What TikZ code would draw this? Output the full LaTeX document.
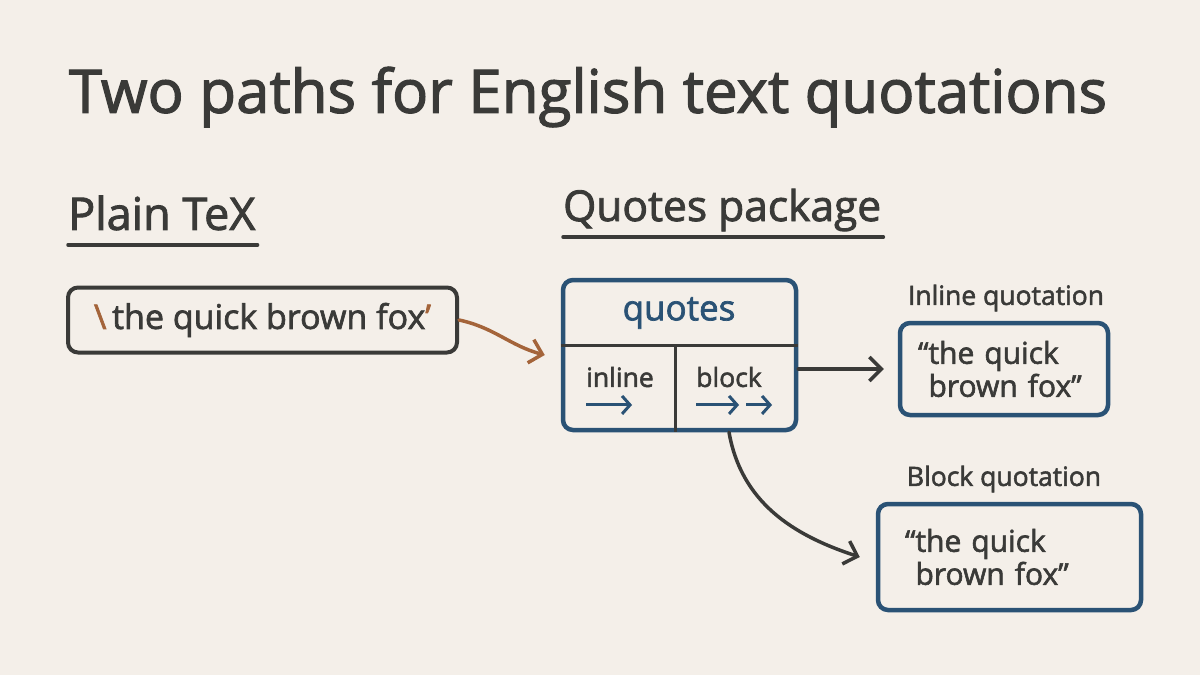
\documentclass[tikz,border=0pt]{standalone}
\usepackage{fontspec}
\setmainfont{Open Sans}[FakeBold=2]
\usetikzlibrary{arrows.meta,positioning}
\definecolor{paper}{HTML}{F4EFE9}
\definecolor{ink}{HTML}{3A3A38}
\definecolor{navy}{HTML}{2A5275}
\definecolor{rust}{HTML}{A4643A}

\begin{document}
\begin{tikzpicture}[x=1pt,y=-1pt,
    every node/.style={text=ink},
    box/.style={draw=ink,line width=4pt,rounded corners=10pt},
    bluebox/.style={draw=navy,line width=4.5pt,rounded corners=10pt,align=left},
    hd/.style={font=\fontsize{42.5}{48}\selectfont,anchor=west,inner sep=0pt},
    sub/.style={font=\fontsize{26.5}{30}\selectfont,inner sep=0pt},
    quote/.style={font=\fontsize{30}{33}\selectfont},
    ul/.style={draw=ink,line width=3.5pt,line cap=round},
    divider/.style={draw=ink,line width=3pt},
    link/.style={draw=ink,line width=3.5pt,line cap=round,-{Straight Barb[length=12pt,width=24pt]}},
    cellarr/.style={draw=navy,line width=3pt,-{Straight Barb[length=8pt,width=18pt]}}]
  \fill[paper] (0,0) rectangle (1200,675);
  \useasboundingbox (0,0) rectangle (1200,675);

  \node[font=\fontsize{60}{66}\selectfont] (title) at (588,97) {Two paths for English text quotations};

  % the two column headings
  \node[hd,font=\fontsize{45}{48}\selectfont] (plainhd) at (68,213) {Plain TeX};
  \node[hd] (quoteshd) at (563,210) {Quotes package};
  \draw[ul] ([yshift=-15pt]plainhd.base west) -- ([xshift=2pt,yshift=-15pt]plainhd.base east);
  \draw[ul] ([yshift=-16pt]quoteshd.base west) -- ([xshift=2pt,yshift=-16pt]quoteshd.base east);

  \node[box,minimum width=389pt,minimum height=65pt,font=\fontsize{34}{38}\selectfont] (plain) at (262.5,320)
    {{\color{rust}\textbackslash}\,the quick brown fox{\color{rust}’}};

  % the package box, split in three
  \node[bluebox,minimum width=233pt,minimum height=150pt] (quotes) at (679.5,355) {};
  \coordinate (mid) at (675,345);
  \draw[divider] (quotes.west |- mid) -- (quotes.east |- mid);
  \draw[divider] (mid) -- (mid |- quotes.south);
  \node[text=navy,font=\fontsize{35}{38}\selectfont] (qname) at (679,313) {quotes};
  \node[sub] (inl) at (620,377) {inline};
  \node[sub] (blk) at (729,377) {block};
  \draw[cellarr] ([yshift=-18pt]inl.base west) -- ++(46,0);
  \draw[cellarr] ([yshift=-18pt]blk.base west) -- ++(43,0);
  \draw[cellarr] ([xshift=50pt,yshift=-18pt]blk.base west) -- ++(26,0);

  \node[sub] (inlhd) at (1006,298) {Inline quotation};
  \node[bluebox,quote,minimum height=92pt,inner xsep=18pt,text width=172pt] (inline) at (1004,369)
    {“the quick\\\phantom{“}brown fox”};
  \node[sub] (blkhd) at (1004,479) {Block quotation};
  \node[bluebox,quote,minimum height=106pt,inner xsep=27pt,text width=209pt] (block) at (1009.5,557)
    {“the quick\\\phantom{“}brown fox”};

  \draw[link,draw=rust] (plain.east) to[out=-12,in=165] ([xshift=-16pt]quotes.west);
  \draw[link] (quotes.east |- inline.west) -- ([xshift=-14pt]inline.west);
  \draw[link] (blk.south |- quotes.south) to[out=-80,in=162] ([xshift=-16pt]block.west);
\end{tikzpicture}
\end{document}
